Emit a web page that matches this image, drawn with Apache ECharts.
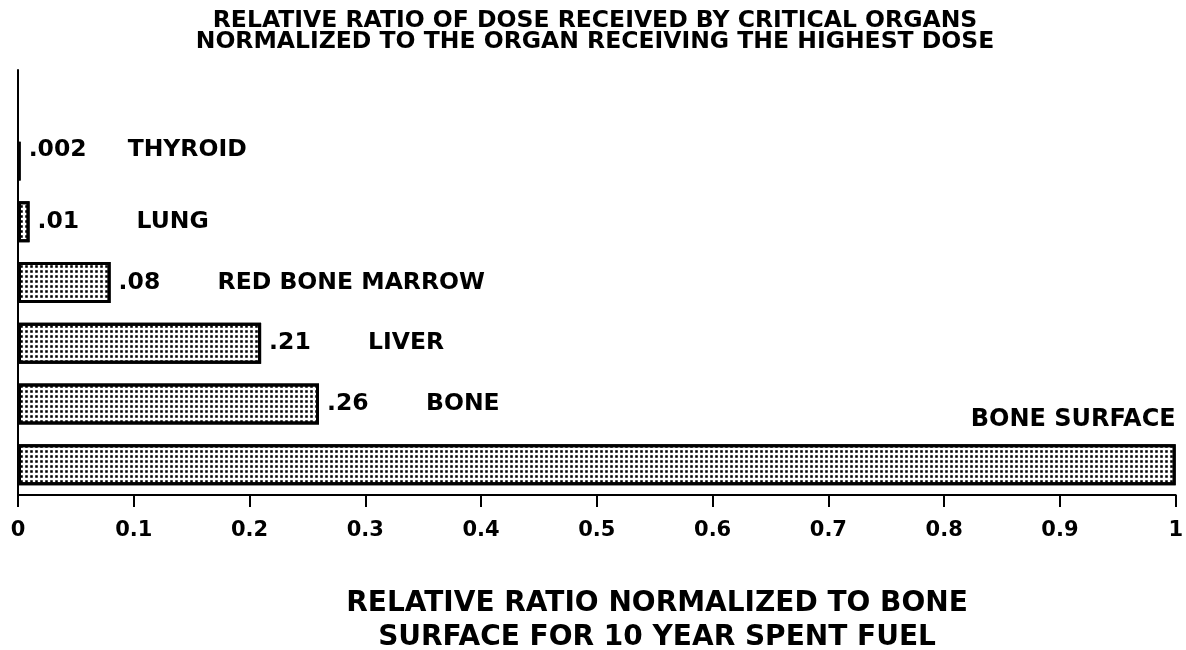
<!DOCTYPE html>
<html>
<head>
<meta charset="utf-8">
<script src="https://cdn.jsdelivr.net/npm/echarts@6/dist/echarts.min.js"></script>
<style>
  html, body { margin: 0; padding: 0; background: #fff; }
  #chart { width: 1186px; height: 650px; }
</style>
</head>
<body>
<div id="chart"></div>
<script>
// organs from bottom to top, last slot left empty (top of axis)
let organs = ['BONE SURFACE', 'BONE', 'LIVER', 'RED BONE MARROW', 'LUNG', 'THYROID', '']
let ratios = [1, 0.26, 0.21, 0.08, 0.01, 0.002, null]
let valueLabels = ['', '.26', '.21', '.08', '.01', '.002', '']
let tickLabels = ['0', '0.1', '0.2', '0.3', '0.4', '0.5', '0.6', '0.7', '0.8', '0.9', '1']

let font = 'DejaVu Sans, Verdana, sans-serif'

let myChart = echarts.init(document.getElementById('chart'))

let barData = ratios.map(function (v, i) {
  let item = { value: v }
  if (i === 0) {
    item.label = {
      show: true,
      position: 'insideTopRight',
      offset: [8, -44],
      formatter: organs[i],
      fontFamily: font,
      fontWeight: 'bold',
      fontSize: 24,
      color: '#000'
    }
  } else if (organs[i] === 'THYROID') {
    item.label = { offset: [0, -11] }
  }
  return item
})

let option = {
  animation: false,
  backgroundColor: '#fff',
  title: [
    {
      text: 'RELATIVE RATIO OF DOSE RECEIVED BY CRITICAL ORGANS\nNORMALIZED TO THE ORGAN RECEIVING THE HIGHEST DOSE',
      left: 590,
      top: 5,
      textAlign: 'center',
      textStyle: {
        fontFamily: font,
        fontWeight: 'bold',
        fontSize: 23.5,
        lineHeight: 21,
        color: '#000'
      }
    },
    {
      text: 'RELATIVE RATIO NORMALIZED TO BONE\nSURFACE FOR 10 YEAR SPENT FUEL',
      left: 652,
      top: 582,
      textAlign: 'center',
      textStyle: {
        fontFamily: font,
        fontWeight: 'bold',
        fontSize: 28,
        lineHeight: 33.5,
        color: '#000'
      }
    }
  ],
  grid: {
    left: 18,
    right: 2,
    top: 70,
    bottom: 155,
    containLabel: false
  },
  xAxis: {
    type: 'value',
    min: 0,
    max: 1,
    interval: 0.1,
    axisLine: { show: true, lineStyle: { color: '#000', width: 2 } },
    axisTick: { show: true, inside: false, length: 12, lineStyle: { color: '#000', width: 2 } },
    splitLine: { show: false },
    axisLabel: {
      margin: 25,
      fontFamily: font,
      fontWeight: 'bold',
      fontSize: 21,
      color: '#000',
      formatter: function (v) {
        return tickLabels[Math.round(v * 10)]
      }
    }
  },
  yAxis: {
    type: 'category',
    data: organs,
    boundaryGap: true,
    axisLine: { show: true, lineStyle: { color: '#000', width: 2 } },
    axisTick: { show: false },
    axisLabel: { show: false },
    splitLine: { show: false }
  },
  series: [
    {
      type: 'bar',
      barWidth: 41,
      data: barData,
      itemStyle: {
        color: '#fff',
        borderColor: '#000',
        borderWidth: 3,
        decal: {
          symbol: 'rect',
          symbolSize: 0.85,
          color: '#000',
          dashArrayX: [3, 2],
          dashArrayY: [3, 2]
        }
      },
      label: {
        show: true,
        position: 'right',
        distance: 8,
        color: '#000',
        fontFamily: font,
        fontWeight: 'bold',
        fontSize: 23.5,
        formatter: function (p) {
          return '{v|' + valueLabels[p.dataIndex] + '}{n|' + organs[p.dataIndex] + '}'
        },
        rich: {
          v: { width: 99, fontFamily: font, fontWeight: 'bold', fontSize: 23.5, color: '#000' },
          n: { fontFamily: font, fontWeight: 'bold', fontSize: 23.5, color: '#000' }
        }
      }
    }
  ]
}

myChart.setOption(option, true)
</script>
</body>
</html>
